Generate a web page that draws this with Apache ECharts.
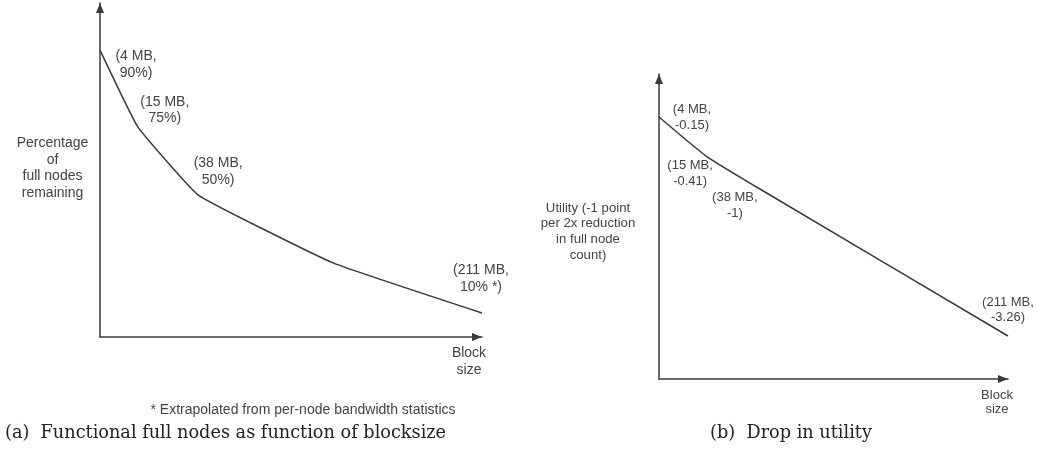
<!DOCTYPE html>
<html>
<head>
<meta charset="utf-8">
<script src="https://cdn.jsdelivr.net/npm/echarts@6/dist/echarts.min.js"></script>
<style>
html,body{margin:0;padding:0;background:#fff;}
#c{width:1037px;height:451px;}
</style>
</head>
<body>
<div id="c"></div>
<script>
// Panel (a): schematic positions (percent of axis length) and annotations
const aX = [0, 9.9, 25.7, 61.0, 100];
const aY = [85.9, 62.9, 42.5, 22.2, 7.2];
const aLabels = ['(4 MB,\n90%)', '(15 MB,\n75%)', '(38 MB,\n50%)', '', '(211 MB,\n10% *)'];

// Panel (b)
const bX = [0, 13.5, 28.9, 100];
const bY = [85.9, 73.1, 62.3, 14.1];
const bLabels = ['(4 MB,\n-0.15)', '(15 MB,\n-0.41)', '(38 MB,\n-1)', '(211 MB,\n-3.26)'];

// text
const aYTitle = 'Percentage\nof\nfull nodes\nremaining';
const bYTitle = 'Utility (-1 point\nper 2x reduction\nin full node\ncount)';
const xTitle = 'Block\nsize';
const footnote = '* Extrapolated from per-node bandwidth statistics';
const captionA = '(a)  Functional full nodes as function of blocksize';
const captionB = '(b)  Drop in utility';

// label offsets (style)
const aOff = [[36, 14.5], [27, -17], [20, -23.5], [0, 0], [-1, -34.5]];
const bOff = [[33, 0.5], [-16, 17.5], [-25, 16.5], [0, -26]];

const INK = '#3a3a3a';
const TXT = '#444';
const SANS = 'Liberation Sans, Arial, sans-serif';

function mkData(xs, ys, labels, offs, fs) {
  return xs.map((x, i) => ({
    value: [x, ys[i]],
    label: {
      show: !!labels[i],
      formatter: labels[i] || '',
      position: 'inside',
      offset: offs[i],
      align: 'center',
      verticalAlign: 'middle',
      color: TXT,
      opacity: 1,
      fontFamily: SANS,
      fontSize: fs,
      lineHeight: fs + 2.5
    }
  }));
}

function axis() {
  return {
    type: 'value', min: 0, max: 100,
    axisLine: { show: true, symbol: ['none', 'triangle'], symbolSize: [8, 10], symbolOffset: [0, -5],
      lineStyle: { color: INK, width: 1.5 } },
    axisTick: { show: false }, axisLabel: { show: false }, splitLine: { show: false }
  };
}

const lineSeries = (idx, data, smooth) => ({
  type: 'line', xAxisIndex: idx, yAxisIndex: idx, clip: false,
  symbol: 'circle', symbolSize: 0.01, showSymbol: true, smooth: smooth,
  itemStyle: { color: 'rgba(0,0,0,0)', borderWidth: 0 },
  emphasis: { disabled: true },
  lineStyle: { color: INK, width: 1.5 }, data: data
});

const chart = echarts.init(document.getElementById('c'), null, { renderer: 'canvas' });
chart.setOption({
  animation: false,
  backgroundColor: '#fff',
  grid: [
    { left: 100, top: 3, width: 382, height: 334 },
    { left: 659, top: 74, width: 349, height: 305 }
  ],
  xAxis: [Object.assign(axis(), { gridIndex: 0 }), Object.assign(axis(), { gridIndex: 1 })],
  yAxis: [Object.assign(axis(), { gridIndex: 0 }), Object.assign(axis(), { gridIndex: 1 })],
  series: [
    lineSeries(0, mkData(aX, aY, aLabels, aOff, 14), 0.1),
    lineSeries(1, mkData(bX, bY, bLabels, bOff, 13), 0.15)
  ],
  graphic: [
    { type: 'text', x: 52.5, y: 168, style: { text: aYTitle, fill: TXT, font: '14px ' + SANS, align: 'center', verticalAlign: 'middle', lineHeight: 16.7 } },
    { type: 'text', x: 469, y: 361.5, style: { text: xTitle, fill: TXT, font: '14px ' + SANS, align: 'center', verticalAlign: 'middle', lineHeight: 17 } },
    { type: 'text', x: 303, y: 410, style: { text: footnote, fill: TXT, font: '14px ' + SANS, align: 'center', verticalAlign: 'middle' } },
    { type: 'text', x: 5, y: 433, style: { text: captionA, fill: '#222', font: '17.7px DejaVu Serif, serif', align: 'left', verticalAlign: 'middle' } },
    { type: 'text', x: 588, y: 231.5, style: { text: bYTitle, fill: TXT, font: '13.2px ' + SANS, align: 'center', verticalAlign: 'middle', lineHeight: 15.7 } },
    { type: 'text', x: 997, y: 402.5, style: { text: xTitle, fill: TXT, font: '13px ' + SANS, align: 'center', verticalAlign: 'middle', lineHeight: 14 } },
    { type: 'text', x: 791, y: 433, style: { text: captionB, fill: '#222', font: '17.7px DejaVu Serif, serif', align: 'center', verticalAlign: 'middle' } }
  ]
});
</script>
</body>
</html>
